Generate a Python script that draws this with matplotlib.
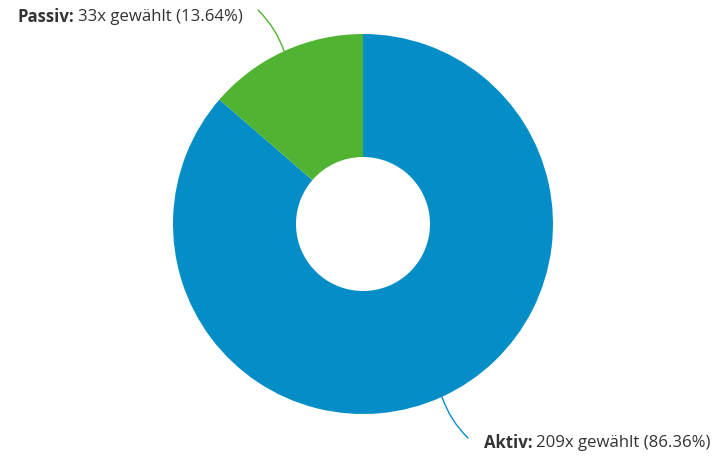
import numpy as np
import matplotlib
matplotlib.use("Agg")
import matplotlib.pyplot as plt

labels = ["Aktiv", "Passiv"]
counts = [209, 33]
shares = ["86.36%", "13.64%"]
colors = ["#058DC7", "#50B432"]

W, H = 725, 458
cx, cy = 363, H - 224
r_out, r_in = 190, 67

plt.rcParams["font.family"] = ["Open Sans", "DejaVu Sans"]

fig = plt.figure(figsize=(W / 100, H / 100), dpi=100)
ax = fig.add_axes([0, 0, 1, 1])
ax.set_xlim(0, W)
ax.set_ylim(0, H)
ax.axis("off")

wedges, _ = ax.pie(counts, colors=colors, startangle=90, counterclock=False,
                   radius=r_out, center=(cx, cy),
                   wedgeprops=dict(width=r_out - r_in, linewidth=0))
ax.set_xlim(0, W)
ax.set_ylim(0, H)

# label anchors (left edge of text, y centre) and connector ends
label_pos = {"Aktiv": (484, H - 443), "Passiv": (18, H - 17)}
conn_end = {"Aktiv": (468, H - 438), "Passiv": (258, H - 10)}
curv = {"Aktiv": -0.12, "Passiv": -0.12}
fs = 12.1

fig.canvas.draw()
renderer = fig.canvas.get_renderer()
inv = ax.transData.inverted()

for w, lab, n, pct, col in zip(wedges, labels, counts, shares, colors):
    mid = np.deg2rad((w.theta1 + w.theta2) / 2)
    px = cx + r_out * np.cos(mid)
    py = cy + r_out * np.sin(mid)
    ex, ey = conn_end[lab]
    ax.annotate("", xy=(px, py), xytext=(ex, ey),
                arrowprops=dict(arrowstyle="-", color=col, lw=1,
                                shrinkA=0, shrinkB=0,
                                connectionstyle="arc3,rad=%.2f" % curv[lab]))
    tx, ty = label_pos[lab]
    t1 = ax.text(tx, ty, lab + ":", fontsize=fs, fontweight="bold",
                 color="#333333", ha="left", va="center")
    bb = t1.get_window_extent(renderer)
    x1 = inv.transform((bb.x1, bb.y0))[0]
    ax.text(x1 + 3.5, ty, "%dx gewählt (%s)" % (n, pct), fontsize=fs,
            color="#333333", ha="left", va="center")

fig.savefig("out.png", dpi=100)
